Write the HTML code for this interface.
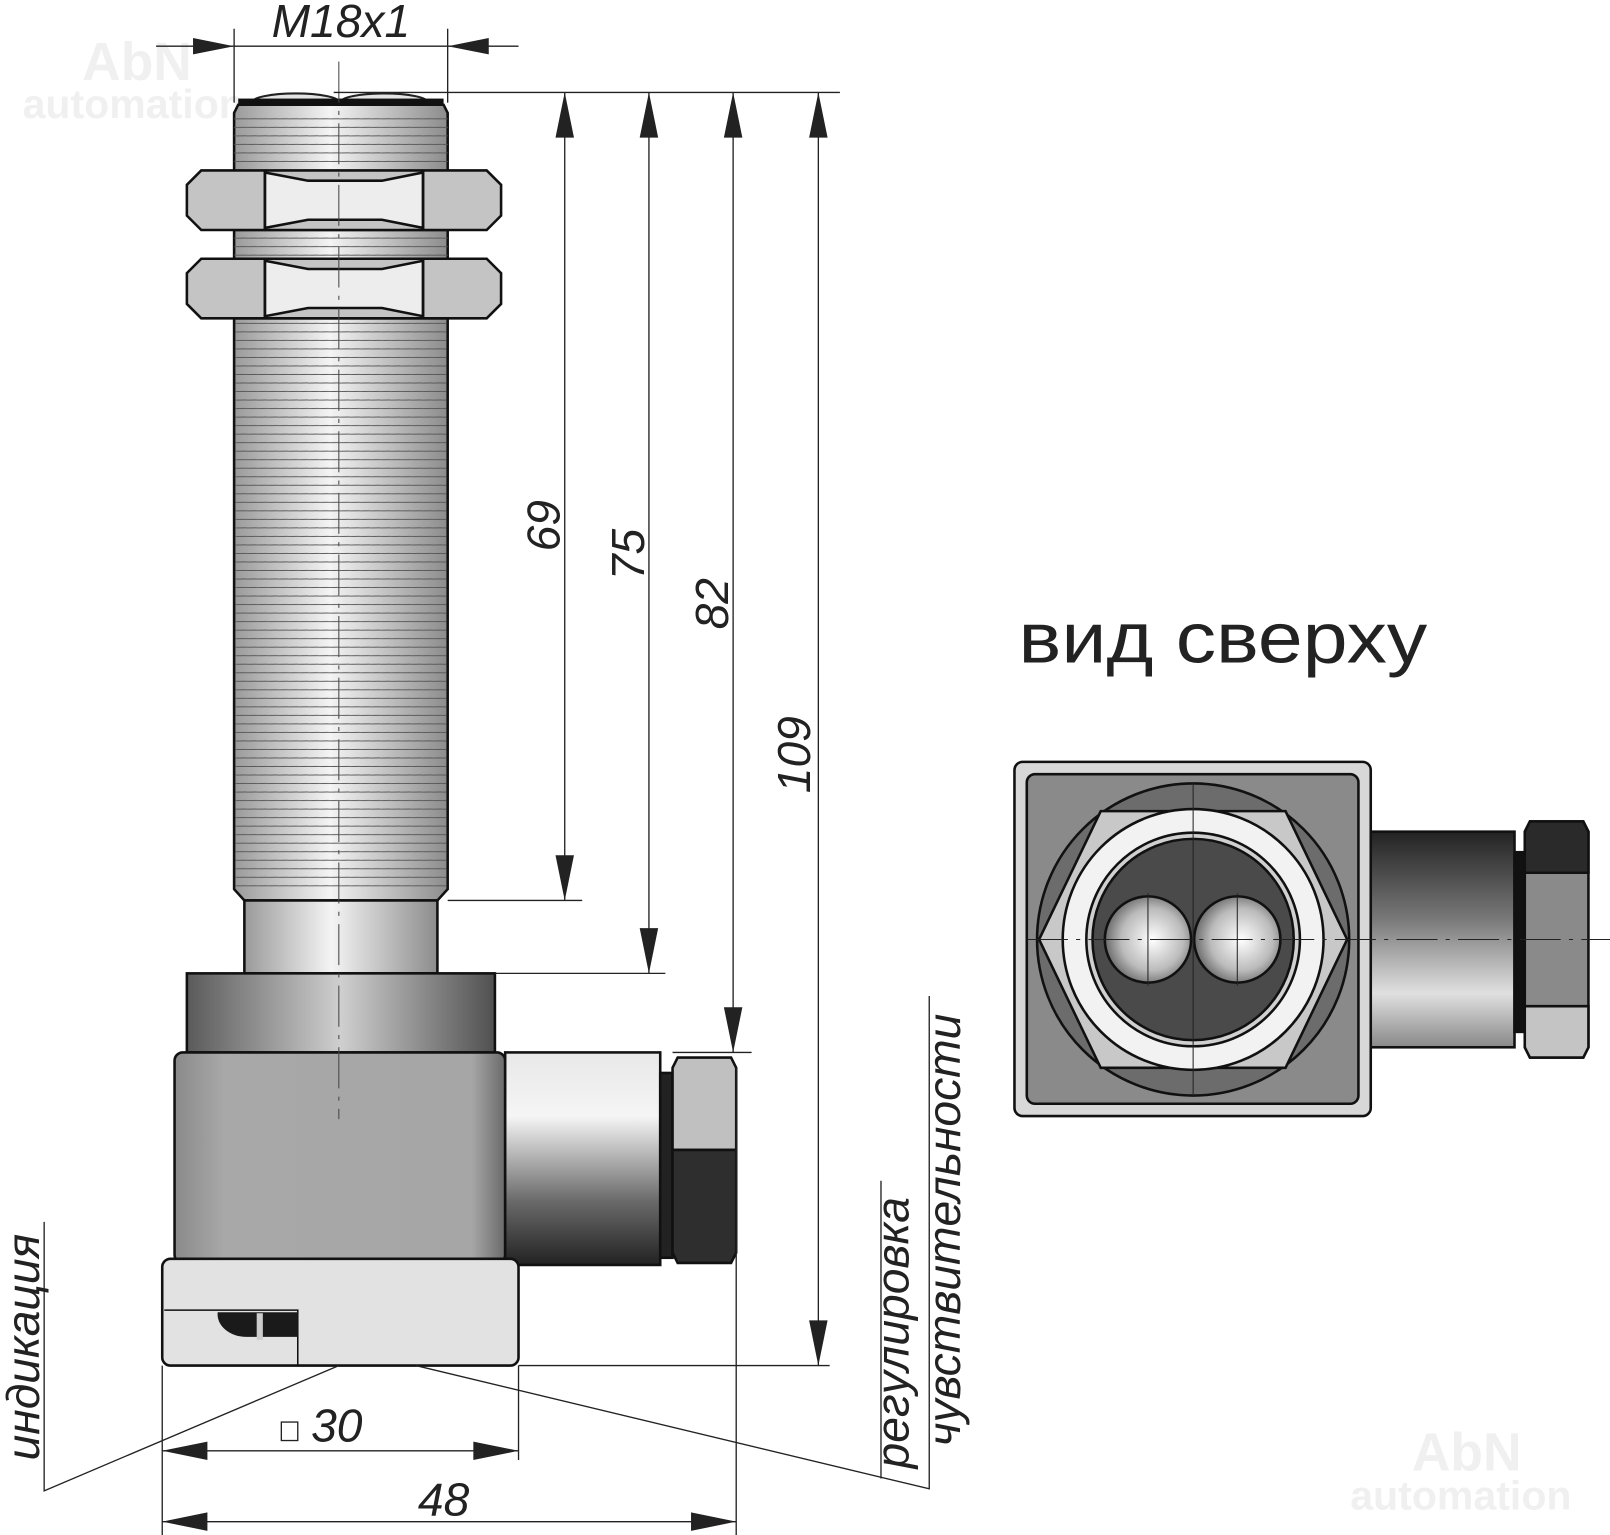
<!DOCTYPE html>
<html><head><meta charset="utf-8"><style>html,body{margin:0;padding:0;background:#fff}svg{display:block}</style></head><body>
<svg width="1610" height="1535" viewBox="0 0 1568 1495" preserveAspectRatio="none" xmlns="http://www.w3.org/2000/svg" font-family="Liberation Sans, sans-serif">
<defs>
<linearGradient id="cyl" x1="0" x2="1" y1="0" y2="0"><stop offset="0" stop-color="#9a9a9a"/><stop offset="0.45" stop-color="#f4f4f4"/><stop offset="1" stop-color="#8c8c8c"/></linearGradient>
<linearGradient id="col" x1="0" x2="1"><stop offset="0" stop-color="#5a5a5a"/><stop offset="0.5" stop-color="#cfcfcf"/><stop offset="1" stop-color="#505050"/></linearGradient>
<linearGradient id="hous" x1="0" x2="1"><stop offset="0" stop-color="#8a8a8a"/><stop offset="0.15" stop-color="#a8a8a8"/><stop offset="0.9" stop-color="#a6a6a6"/><stop offset="1" stop-color="#6a6a6a"/></linearGradient>
<linearGradient id="conn" x1="0" x2="0" y1="0" y2="1"><stop offset="0" stop-color="#e8e8e8"/><stop offset="0.3" stop-color="#f5f5f5"/><stop offset="0.7" stop-color="#6a6a6a"/><stop offset="1" stop-color="#222"/></linearGradient>
<linearGradient id="conn2" x1="0" x2="0" y1="0" y2="1"><stop offset="0" stop-color="#222"/><stop offset="0.4" stop-color="#777"/><stop offset="0.75" stop-color="#e0e0e0"/><stop offset="1" stop-color="#888"/></linearGradient>
<radialGradient id="ball" cx="0.55" cy="0.5" r="0.6"><stop offset="0" stop-color="#fff"/><stop offset="0.6" stop-color="#bbb"/><stop offset="1" stop-color="#555"/></radialGradient>
<pattern id="thr" width="10" height="8.3" patternUnits="userSpaceOnUse"><line x1="0" y1="8" x2="10" y2="7.7" stroke="#555" stroke-width="0.9"/></pattern>
</defs>
<g fill="#f0f0f0" font-weight="bold"><text x="80" y="78" font-size="52">AbN</text><text x="22" y="115" font-size="40">automation</text>
<text x="1375" y="1432" font-size="52">AbN</text><text x="1315" y="1470" font-size="40">automation</text></g>

<!-- sensor body -->
<ellipse cx="288" cy="100" rx="43" ry="9" fill="#e4e4e4" stroke="#222" stroke-width="2"/>
<ellipse cx="374" cy="100" rx="43" ry="9" fill="#e4e4e4" stroke="#222" stroke-width="2"/>
<rect x="232" y="96" width="200" height="6" fill="#111"/>
<polygon points="232,102 432,102 436,110 436,170 228,170 228,110" fill="url(#cyl)" stroke="#111" stroke-width="2.5"/>
<rect x="228" y="110" width="208" height="58" fill="url(#thr)"/>
<rect x="228" y="224" width="208" height="30" fill="url(#cyl)" stroke="#111" stroke-width="2.5"/>
<rect x="228" y="224" width="208" height="30" fill="url(#thr)"/>
<polygon points="228,310 436,310 436,866 426,877 238,877 228,866" fill="url(#cyl)" stroke="#111" stroke-width="2.5"/>
<rect x="229" y="312" width="206" height="552" fill="url(#thr)"/>
<g stroke="#111" stroke-width="2.5">
<g id="nut"><polygon points="196,166 474,166 488,180 488,210 474,224 196,224 182,210 182,180" fill="#c4c4c4"/>
<polygon points="258,168 300,176 372,176 412,168 412,222 372,214 300,214 258,222" fill="#ededed"/>
<line x1="258" y1="166" x2="258" y2="224"/><line x1="412" y1="166" x2="412" y2="224"/></g>
<use href="#nut" y="86"/>
<rect x="238" y="877" width="188" height="71" fill="url(#cyl)"/>
<rect x="182" y="948" width="300" height="77" fill="url(#col)"/>
<rect x="170" y="1025" width="322" height="205" rx="8" fill="url(#hous)"/>
<rect x="492" y="1025" width="151" height="207" fill="url(#conn)"/>
<rect x="643" y="1045" width="12" height="180" fill="#222"/>
<polygon points="660,1030 712,1030 717,1040 717,1120 655,1120 655,1040" fill="#c0c0c0"/>
<polygon points="655,1120 717,1120 717,1220 712,1230 660,1230 655,1220" fill="#2e2e2e"/>
<rect x="158" y="1226" width="347" height="104" rx="8" fill="#e2e2e2"/>
<path d="M160,1276 H290 V1330" fill="none" stroke-width="1.5"/>
<path d="M212,1278 H290 V1302 H240 A28,22 0 0 1 212,1278 Z" fill="#1a1a1a" stroke="none"/>
</g>
<rect x="250" y="1279" width="6" height="26" fill="#ccc"/>
<line x1="330" y1="60" x2="330" y2="1090" stroke="#444" stroke-width="1" stroke-dasharray="40,8,4,8"/>

<!-- dimensions -->
<g stroke="#222" stroke-width="1.3" fill="none">
<line x1="152" y1="45" x2="505" y2="45"/><line x1="228" y1="28" x2="228" y2="100"/><line x1="436" y1="28" x2="436" y2="100"/>
<line x1="325" y1="90" x2="818" y2="90"/>
<line x1="550" y1="90" x2="550" y2="877"/><line x1="632" y1="90" x2="632" y2="948"/><line x1="714" y1="90" x2="714" y2="1025"/><line x1="797" y1="90" x2="797" y2="1330"/>
<line x1="436" y1="877" x2="567" y2="877"/><line x1="482" y1="948" x2="648" y2="948"/><line x1="655" y1="1025" x2="732" y2="1025"/><line x1="505" y1="1330" x2="808" y2="1330"/>
<line x1="158" y1="1330" x2="158" y2="1495"/><line x1="505" y1="1330" x2="505" y2="1422"/><line x1="717" y1="1040" x2="717" y2="1495"/>
<line x1="158" y1="1413" x2="505" y2="1413"/><line x1="158" y1="1482" x2="717" y2="1482"/>
<polyline points="43,1190 43,1452 330,1330"/>
<polyline points="405,1330 905,1450 905,970"/><polyline points="858,1440 858,1150"/>
</g>
<g fill="#222">
<polygon points="228,45 188,37 188,53"/><polygon points="436,45 476,37 476,53"/>
<polygon points="550,90 541,134 559,134"/><polygon points="550,877 541,833 559,833"/>
<polygon points="632,90 623,134 641,134"/><polygon points="632,948 623,904 641,904"/>
<polygon points="714,90 705,134 723,134"/><polygon points="714,1025 705,981 723,981"/>
<polygon points="797,90 788,134 806,134"/><polygon points="797,1330 788,1286 806,1286"/>
<polygon points="158,1413 202,1404 202,1422"/><polygon points="505,1413 461,1404 461,1422"/>
<polygon points="158,1482 202,1473 202,1491"/><polygon points="717,1482 673,1473 673,1491"/>
</g>
<g fill="#222" font-style="italic" font-size="45">
<text x="332" y="36" text-anchor="middle">M18x1</text>
<text transform="translate(545,512) rotate(-90)" text-anchor="middle">69</text>
<text transform="translate(627,540) rotate(-90)" text-anchor="middle">75</text>
<text transform="translate(709,588) rotate(-90)" text-anchor="middle">82</text>
<text transform="translate(789,735) rotate(-90)" text-anchor="middle">109</text>
<text x="303" y="1404">30</text>
<text x="432" y="1476" text-anchor="middle">48</text>
<text transform="translate(38,1312) rotate(-90)" text-anchor="middle">индикация</text>
<text transform="translate(885,1298) rotate(-90)" text-anchor="middle">регулировка</text>
<text transform="translate(935,1198) rotate(-90)" text-anchor="middle">чувствительности</text>
</g>
<rect x="274" y="1385" width="16" height="18" fill="none" stroke="#222" stroke-width="1.3"/>

<!-- top view -->
<text x="992" y="645" font-size="70" fill="#222" textLength="398" lengthAdjust="spacingAndGlyphs">вид сверху</text>
<g stroke="#111" stroke-width="2.5">
<rect x="1325" y="810" width="150" height="210" fill="url(#conn2)"/>
<rect x="1475" y="830" width="10" height="175" fill="#111"/>
<polygon points="1490,800 1542,800 1547,810 1547,1020 1542,1030 1490,1030 1485,1020 1485,810" fill="#8a8a8a"/>
<polygon points="1485,810 1490,800 1542,800 1547,810 1547,850 1485,850" fill="#2a2a2a"/>
<polygon points="1485,980 1547,980 1547,1020 1542,1030 1490,1030 1485,1020" fill="#c4c4c4"/>
<rect x="988" y="742" width="347" height="345" rx="8" fill="#d8d8d8"/>
<rect x="1000" y="754" width="323" height="321" rx="8" fill="#8a8a8a"/>
<circle cx="1162" cy="915" r="152" fill="#6c6c6c"/>
<polygon points="1012,915 1072,790 1252,790 1312,915 1252,1040 1072,1040" fill="#c8c8c8"/>
<circle cx="1162" cy="915" r="127" fill="#f2f2f2"/>
<circle cx="1162" cy="915" r="104" fill="#d0d0d0"/>
<circle cx="1162" cy="915" r="98" fill="#4a4a4a"/>
<circle cx="1118" cy="915" r="42" fill="url(#ball)"/>
<circle cx="1205" cy="915" r="42" fill="url(#ball)"/>
</g>
<g stroke="#222" stroke-width="1">
<line x1="1000" y1="915" x2="1568" y2="915" stroke-dasharray="40,8,4,8"/>
<line x1="1162" y1="762" x2="1162" y2="1068"/>
<line x1="1118" y1="870" x2="1118" y2="960"/><line x1="1205" y1="870" x2="1205" y2="960"/>
</g>
</svg>
</body></html>
